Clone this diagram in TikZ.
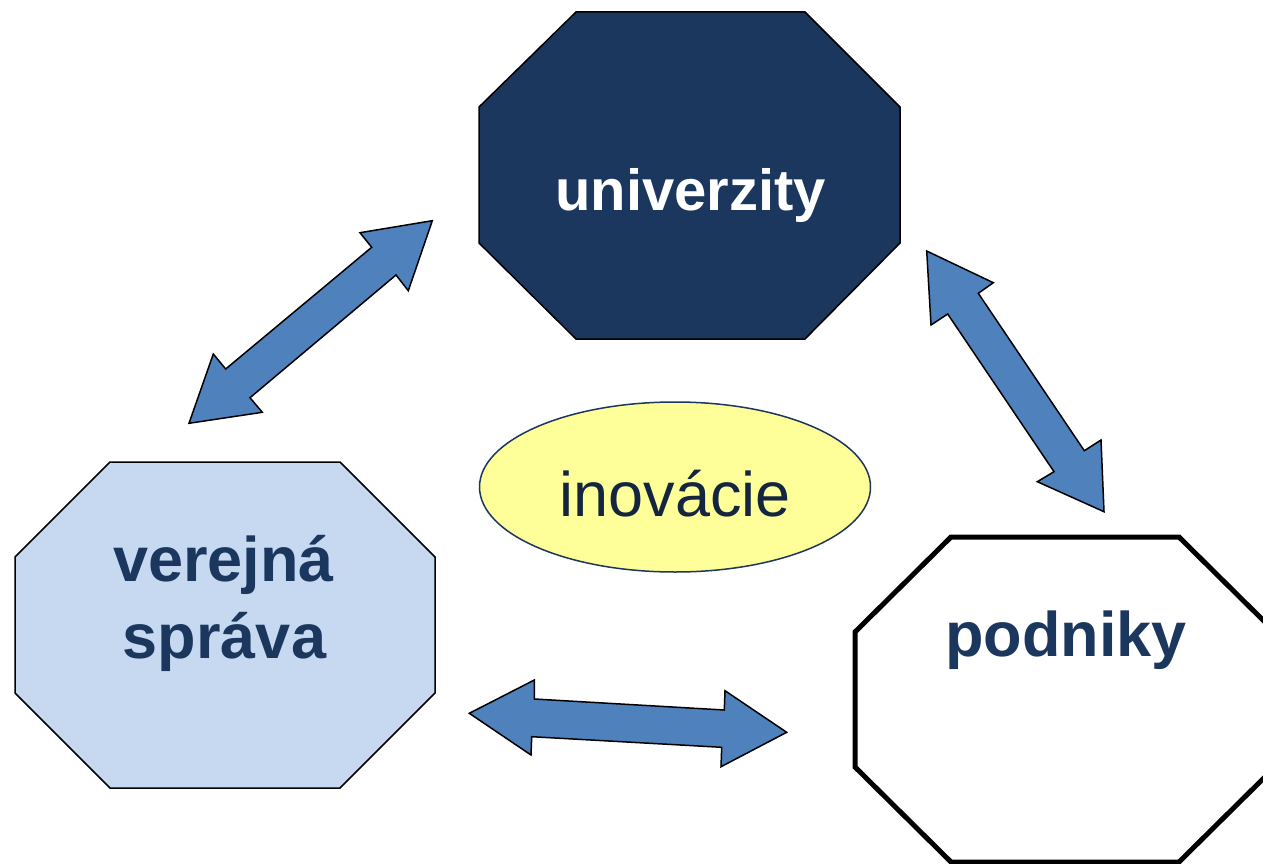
\documentclass[tikz,border=0pt]{standalone}
\usepackage{fontspec}
\setmainfont{Liberation Sans}
\begin{document}
\begin{tikzpicture}[x=1pt,y=-1pt,
  octo/.style={draw=black,line width=1.5pt,line join=miter},
  blockarrow/.style={draw=black,line width=1.5pt,fill=arrowblue,line join=miter},
  bigbold/.style={font=\fontsize{63}{76}\selectfont\bfseries,text=navytext,anchor=base,inner sep=0pt,align=center},
]
\definecolor{arrowblue}{HTML}{4F81BD}
\definecolor{unifill}{HTML}{1B375E}
\definecolor{vsfill}{HTML}{C6D9F1}
\definecolor{navytext}{HTML}{1B375E}
\definecolor{ellfill}{HTML}{FFFF99}
\definecolor{inotext}{HTML}{14263F}
\clip (0,0) rectangle (1263,864);
\fill[white] (0,0) rectangle (1263,864);
% univerzity octagon
\draw[octo,fill=unifill] (576,12) -- (805,12) -- (900,107) -- (900,243) -- (805,339) -- (576,339) -- (479,243) -- (479,107) -- cycle;
% verejna sprava octagon
\draw[octo,fill=vsfill] (110,462) -- (340,462) -- (435,557) -- (435,693) -- (340,788) -- (110,788) -- (15,693) -- (15,557) -- cycle;
% podniky octagon
\draw[octo,line width=5pt,fill=white] (951,537) -- (1179,537) -- (1275,632) -- (1275,767) -- (1179,862) -- (951,862) -- (855,767) -- (855,632) -- cycle;
% ellipse
\draw[draw=unifill,line width=1.5pt,fill=ellfill] (675,487) ellipse [x radius=195.5, y radius=85];
% arrows
\draw[blockarrow] (432.3,220.7) -- (408.3,290.7) -- (396,275) -- (250,397.7) -- (262.3,412.3) -- (189,423.3) -- (213.3,354) -- (225.7,369) -- (371.7,247.3) -- (360,232.7) -- cycle;
\draw[blockarrow] (926.7,251) -- (993.3,282.7) -- (978.3,293.3) -- (1084.3,450.7) -- (1101,440) -- (1104,511.7) -- (1037.3,481.7) -- (1054,471.7) -- (947.7,314) -- (931,325) -- cycle;
\draw[blockarrow] (469.3,713.3) -- (534.3,680) -- (534.3,699) -- (724.3,710) -- (725,690.7) -- (786.7,732.3) -- (721,766.7) -- (721.7,747.3) -- (531.7,736.7) -- (531,755) -- cycle;
% texts
\node[bigbold,font=\fontsize{58}{70}\selectfont\bfseries,text=white] (univ) at (690.5,210.7) {univerzity};
\node[bigbold] (verejna) at (223.5,581.7) {verejná};
\node[bigbold] (sprava) at (224.5,658) {správa};
\node[bigbold] (podniky) at (1066,656.7) {podniky};
\node[font=\fontsize{63}{76}\selectfont,text=inotext,anchor=base,inner sep=0pt] (inov) at (675.4,516.7) {inovácie};
\end{tikzpicture}
\end{document}
